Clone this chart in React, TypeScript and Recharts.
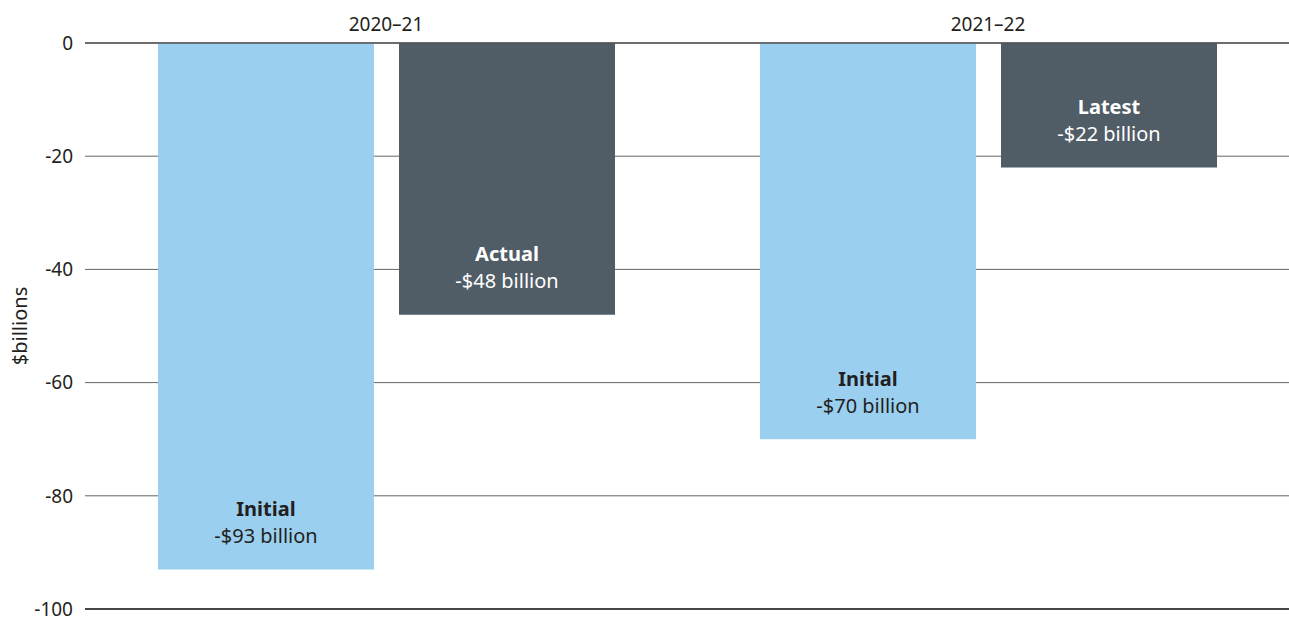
import React from "react";
import {
  BarChart,
  Bar,
  XAxis,
  YAxis,
  CartesianGrid,
  ReferenceLine,
  LabelList,
} from "recharts";

const YEARS = ["2020–21", "2021–22"];
const INITIAL_VALUES = [-93, -70];
const SECOND_VALUES = [-48, -22];
const INITIAL_NAMES = ["Initial", "Initial"];
const SECOND_NAMES = ["Actual", "Latest"];
const Y_TICKS = [0, -20, -40, -60, -80, -100];

const FONT = "'Noto Sans', sans-serif";
const LIGHT = "#9acff0";
const DARK = "#515d66";
const TEXT = "#231f20";

const data = YEARS.map((year, i) => ({
  year,
  initial: INITIAL_VALUES[i],
  second: SECOND_VALUES[i],
}));

const makeLabel = (names: string[], color: string) => (props: any) => {
  const { x, y, width, height, value, index } = props;
  const bottom = Math.max(y, y + height);
  const cx = x + width / 2;
  return (
    <g fontFamily={FONT} fill={color} textAnchor="middle">
      <text x={cx} y={bottom - 61} dominantBaseline="central" fontSize={20} fontWeight={700}>
        {names[index]}
      </text>
      <text x={cx} y={bottom - 34} dominantBaseline="central" fontSize={20}>
        {`-$${Math.abs(value)} billion`}
      </text>
    </g>
  );
};

// rotated axis title, drawn at the left edge of the y-axis area
const AxisTitle = (props: any) => {
  const { viewBox } = props;
  const cy = viewBox.y + viewBox.height / 2;
  return (
    <text
      x={19}
      y={cy}
      transform={`rotate(-90 19 ${cy})`}
      textAnchor="middle"
      dominantBaseline="central"
      fontFamily={FONT}
      fontSize={20}
      fill={TEXT}
    >
      $billions
    </text>
  );
};

const App = () => {
  return (
    <div style={{ position: "absolute", left: 0, top: 0, width: 1289, height: 621, background: "#fff" }}>
      <BarChart
        width={1289}
        height={621}
        data={data}
        margin={{ top: 13, right: 0, bottom: 12, left: 0 }}
        barSize={216}
        barGap={25}
      >
        <CartesianGrid vertical={false} stroke="#666" strokeWidth={1} />
        <XAxis
          dataKey="year"
          orientation="top"
          height={30}
          axisLine={false}
          tickLine={false}
          tickSize={0}
          tickMargin={12}
          tick={{ fontSize: 19, fill: TEXT, fontFamily: FONT }}
        />
        <YAxis
          type="number"
          domain={[-100, 0]}
          ticks={Y_TICKS}
          width={85}
          axisLine={false}
          tickLine={false}
          tickSize={0}
          tickMargin={12}
          tick={{ fontSize: 19, fill: TEXT, fontFamily: FONT }}
          label={<AxisTitle />}
        />
        <Bar dataKey="initial" fill={LIGHT} isAnimationActive={false}>
          <LabelList dataKey="initial" content={makeLabel(INITIAL_NAMES, TEXT)} />
        </Bar>
        <Bar dataKey="second" fill={DARK} isAnimationActive={false}>
          <LabelList dataKey="second" content={makeLabel(SECOND_NAMES, "#ffffff")} />
        </Bar>
        <ReferenceLine y={0} stroke="#555" strokeWidth={1.5} />
        <ReferenceLine y={-100} stroke="#222" strokeWidth={1.5} />
      </BarChart>
    </div>
  );
};

export default App;
